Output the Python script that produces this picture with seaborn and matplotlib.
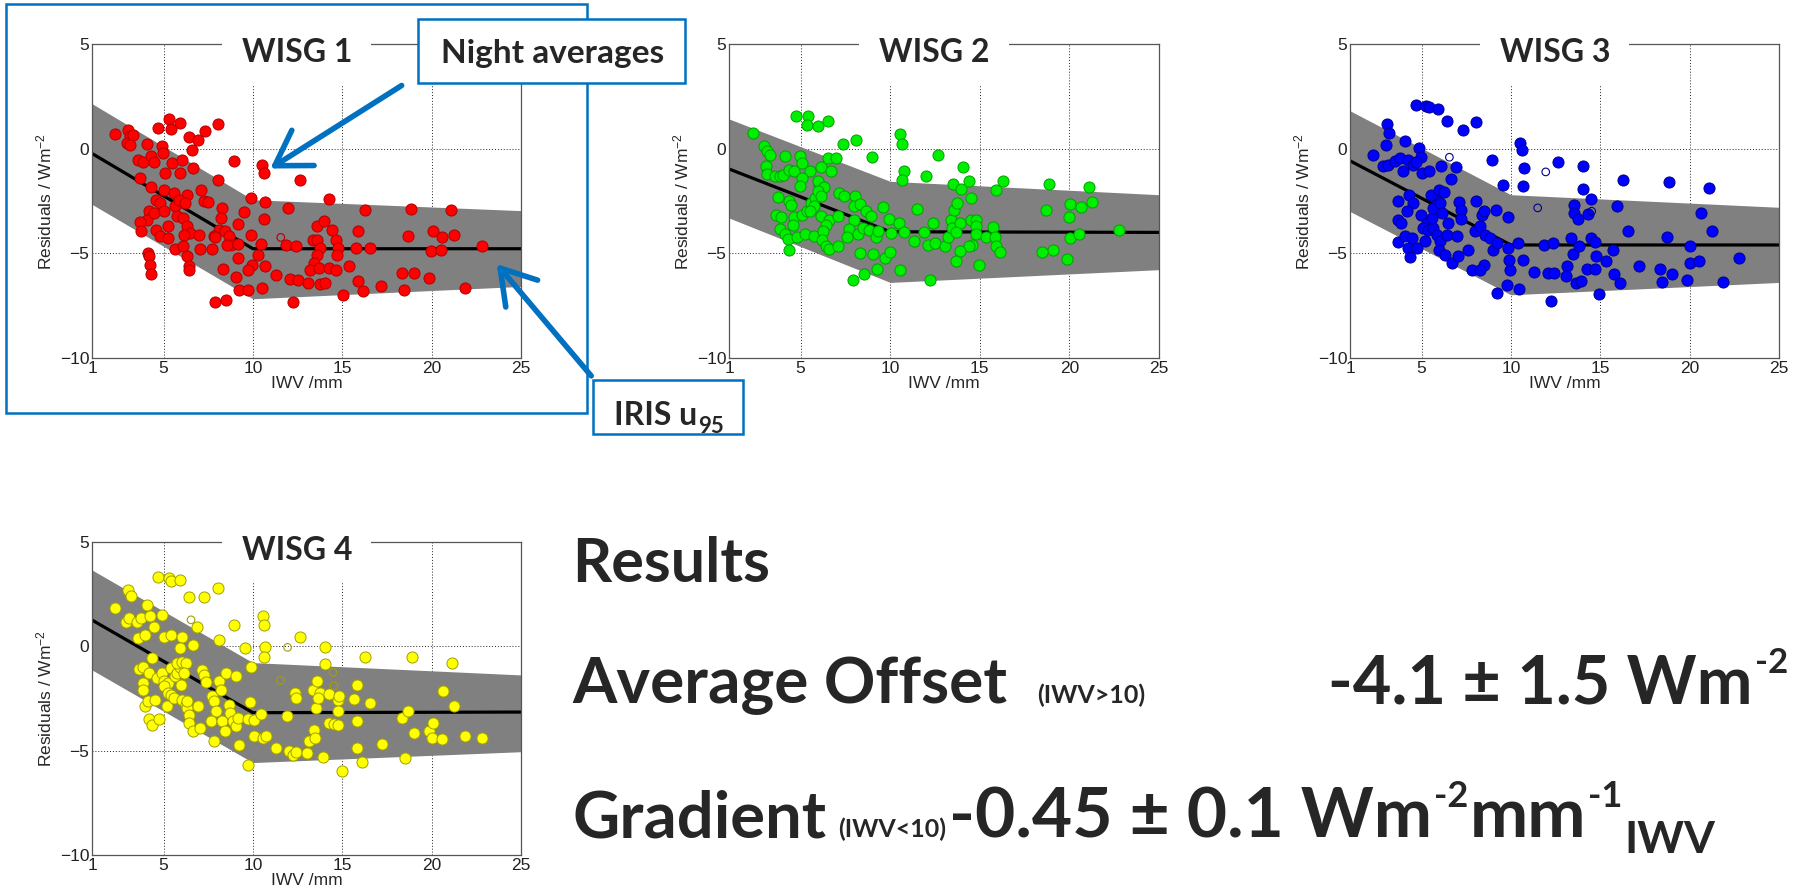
import numpy as np
import pandas as pd
import matplotlib
matplotlib.use("Agg")
import matplotlib.pyplot as plt
import seaborn as sns
from matplotlib.patches import Rectangle, FancyArrowPatch

FIG_W, FIG_H = 1801, 896
BLUE = "#0070C0"

# night-average residuals per instrument: (IWV mm, residual W m^-2)
wisg1_points = [
    (2.3, 0.7), (3.0, 0.9), (3.1, 0.6), (2.95, 0.27), (3.27, 0.64), (3.1, 0.16), (3.57, -0.53), (3.85, -0.64),
    (3.68, -1.4), (4.1, 0.24), (4.28, -0.37), (4.49, -0.64), (4.7, 0.99), (5.31, 1.42), (5.43, 0.96), (5.93, 1.23),
    (4.9, 0.11), (4.99, -0.21), (4.32, -1.85), (5.03, -1.96), (5.5, -0.68), (6.06, -0.53), (5.07, -1.16), (5.95, -1.16),
    (6.44, 0.54), (6.91, 0.43), (7.3, 0.83), (6.57, -0.08), (6.63, -0.92), (8.05, 1.18), (8.05, -1.48), (8.93, -0.59),
    (10.53, -0.8), (10.64, -1.16), (12.63, -1.48), (7.11, -1.99), (6.32, -2.2), (7.28, -2.52), (7.5, -2.56), (5.56, -2.12),
    (4.6, -2.44), (4.17, -2.99), (4.06, -3.39), (3.66, -3.52), (3.74, -3.95), (4.49, -3.07), (4.81, -2.6), (5.03, -2.99),
    (5.67, -2.75), (5.89, -2.44), (6.2, -2.6), (5.78, -3.24), (6.1, -3.31), (4.6, -3.87), (5.24, -3.71), (4.81, -4.19),
    (5.24, -4.27), (6.32, -3.71), (6.49, -4.03), (6.14, -4.11), (6.96, -4.11), (5.67, -4.79), (6.1, -4.67), (6.32, -5.14),
    (6.42, -5.62), (6.4, -5.78), (7.06, -4.79), (7.7, -4.79), (4.13, -4.99), (4.17, -5.14), (4.22, -5.54), (4.32, -5.99),
    (8.3, -2.83), (8.24, -3.31), (8.13, -3.87), (7.8, -4.19), (7.9, -4.22), (8.46, -3.95), (8.67, -4.19), (8.78, -4.59),
    (8.56, -4.59), (9.14, -3.58), (9.14, -4.55), (9.53, -3.03), (9.89, -2.36), (9.89, -4.11), (10.7, -2.55), (10.6, -3.34),
    (10.45, -4.55), (10.28, -5.06), (9.96, -5.54), (9.75, -5.78), (10.7, -5.62), (9.16, -5.22), (8.35, -5.75), (9.04, -6.13),
    (9.2, -6.74), (9.75, -6.74), (10.5, -6.66), (7.88, -7.32), (8.52, -7.21), (11.3, -6.04), (11.99, -2.83), (11.84, -4.59),
    (12.42, -4.67), (12.1, -6.23), (12.5, -6.27), (13.06, -6.42), (12.25, -7.34), (14.24, -2.4), (13.56, -3.71), (14.0, -3.44),
    (14.45, -3.87), (13.34, -4.35), (13.6, -4.35), (13.77, -4.75), (14.63, -4.35), (14.78, -4.75), (14.72, -5.06), (13.6, -5.06),
    (13.43, -5.46), (13.17, -5.78), (13.71, -5.7), (14.24, -5.7), (14.67, -5.78), (15.36, -5.62), (13.77, -6.46), (14.03, -6.42),
    (15.05, -6.98), (15.9, -6.34), (16.14, -6.82), (16.3, -2.91), (15.9, -3.95), (15.76, -4.75), (16.55, -4.75), (17.18, -6.58),
    (18.85, -2.88), (18.7, -4.19), (18.36, -5.94), (19.0, -5.94), (18.46, -6.74), (20.07, -3.95), (20.6, -4.24), (21.25, -4.14),
    (21.1, -2.95), (19.98, -4.9), (20.5, -4.82), (19.85, -6.18), (21.85, -6.66), (22.81, -4.63),
]
wisg1_open = [(11.56, -4.24)]

wisg2_points = [
    (2.35, 0.75), (2.96, 0.11), (3.11, -0.13), (3.29, -0.29), (3.06, -0.81), (3.11, -1.19), (3.58, -1.32), (3.83, -1.29),
    (4.02, -1.27), (4.15, -0.33), (4.34, -1.0), (4.63, -1.08), (4.94, -0.37), (5.07, -0.68), (5.52, -1.08), (4.75, 1.58),
    (5.42, 1.58), (5.36, 1.15), (5.94, 1.07), (6.52, 1.31), (7.38, 0.24), (8.07, 0.43), (6.11, -0.88), (6.55, -0.45),
    (6.96, -0.45), (6.67, -1.05), (8.96, -0.4), (5.07, -1.4), (4.98, -1.8), (3.73, -2.32), (4.34, -2.48), (4.44, -2.71),
    (3.63, -3.15), (3.88, -3.28), (4.63, -3.26), (5.07, -3.15), (5.36, -2.99), (5.55, -2.6), (5.8, -2.36), (6.03, -1.72),
    (5.94, -1.56), (6.32, -1.83), (5.98, -2.04), (6.13, -2.28), (5.75, -2.75), (5.52, -2.99), (6.13, -3.23), (6.57, -3.39),
    (6.42, -3.63), (7.09, -3.23), (7.13, -2.12), (7.42, -2.28), (8.05, -2.28), (8.0, -2.75), (8.3, -2.63), (8.63, -2.99),
    (8.9, -3.23), (9.59, -2.79), (7.96, -3.42), (3.82, -3.84), (4.13, -4.06), (4.27, -4.32), (4.56, -3.63), (4.34, -4.82),
    (4.79, -4.22), (5.23, -4.06), (5.75, -4.16), (6.23, -3.95), (6.19, -4.35), (6.42, -4.63), (6.57, -4.79), (7.09, -4.63),
    (7.67, -3.84), (7.57, -4.22), (8.19, -4.06), (8.5, -3.79), (8.82, -3.87), (9.21, -4.22), (9.3, -3.95), (9.92, -3.34),
    (10.04, -4.03), (10.49, -3.55), (10.74, -4.0), (8.3, -4.98), (9.05, -5.02), (9.69, -5.22), (10.0, -4.95), (9.26, -5.75),
    (8.53, -5.99), (7.92, -6.26), (10.55, -5.78), (10.55, 0.72), (10.65, 0.24), (10.74, -1.08), (10.65, -1.51), (11.51, -2.88),
    (11.99, -1.32), (12.66, -0.32), (11.32, -4.43), (11.91, -4.0), (12.09, -4.59), (12.47, -4.51), (12.38, -3.55), (12.24, -6.26),
    (13.05, -4.67), (13.2, -4.22), (13.38, -3.39), (13.57, -2.91), (13.72, -2.6), (13.53, -1.69), (13.95, -1.93), (14.39, -1.56),
    (14.05, -0.88), (14.53, -2.36), (13.43, -3.79), (13.87, -3.55), (13.68, -4.0), (14.49, -3.39), (14.78, -3.42), (14.78, -3.71),
    (14.78, -4.06), (14.59, -4.59), (14.39, -4.67), (13.87, -4.9), (13.66, -5.38), (14.97, -5.54), (15.35, -4.22), (15.74, -3.74),
    (15.84, -4.22), (15.93, -4.63), (16.12, -4.95), (15.93, -1.99), (16.32, -1.56), (18.49, -4.95), (19.06, -4.86), (18.72, -2.95),
    (18.87, -1.67), (19.87, -5.27), (19.97, -3.26), (20.06, -2.63), (20.02, -4.27), (20.64, -2.79), (20.54, -4.06), (21.08, -1.85),
    (21.27, -2.56), (22.75, -3.9),
]
wisg2_open = []

wisg3_points = [
    (2.27, -0.29), (3.05, 1.18), (3.2, 0.75), (3.01, 0.19), (2.86, -0.84), (3.14, -0.76), (3.52, -0.61), (3.8, -0.45),
    (4.08, 0.35), (3.98, -1.08), (4.26, -0.53), (4.51, -0.76), (4.67, 2.1), (5.23, 2.02), (5.44, 1.99), (5.94, 1.89),
    (6.44, 1.34), (7.3, 0.91), (8.03, 1.26), (4.88, 0.03), (4.97, -0.4), (4.69, -0.65), (5.01, -1.16), (5.44, -1.08),
    (6.07, -0.84), (6.91, -0.88), (6.63, -1.45), (8.93, -0.56), (9.55, -1.75), (10.51, 0.27), (10.6, -0.05), (10.73, -0.92),
    (10.66, -1.8), (12.62, -0.64), (14.02, -0.81), (14.02, -1.91), (14.49, -2.39), (16.25, -1.48), (18.86, -1.61), (21.1, -1.88),
    (3.67, -2.52), (4.32, -2.23), (4.54, -2.6), (4.17, -3.0), (3.67, -3.39), (3.85, -3.55), (3.7, -4.46), (4.08, -4.16),
    (4.45, -4.27), (4.26, -4.75), (4.35, -5.19), (4.73, -4.75), (5.19, -4.43), (4.95, -3.15), (5.29, -3.55), (5.1, -3.79),
    (5.38, -3.87), (5.66, -3.79), (5.57, -3.31), (5.66, -2.83), (5.85, -2.44), (5.51, -2.2), (6.0, -1.96), (6.28, -2.07),
    (6.03, -2.6), (6.16, -3.07), (5.85, -4.11), (6.03, -4.43), (6.41, -4.11), (6.5, -3.55), (6.0, -4.82), (6.31, -5.06),
    (6.69, -5.46), (7.06, -5.14), (6.97, -4.19), (7.12, -2.56), (7.21, -2.91), (7.21, -3.34), (7.62, -4.82), (7.81, -5.78),
    (8.05, -2.52), (8.0, -3.95), (8.27, -3.71), (8.37, -3.15), (8.5, -2.99), (8.55, -4.11), (8.5, -5.54), (8.27, -5.81),
    (8.83, -4.27), (9.02, -4.82), (9.17, -2.91), (9.24, -4.51), (9.2, -6.9), (9.86, -3.26), (9.76, -6.5), (9.95, -5.81),
    (9.86, -4.75), (9.91, -5.3), (10.42, -4.51), (10.47, -6.7), (10.7, -5.3), (11.31, -5.89), (11.85, -4.59), (12.06, -5.94),
    (12.37, -4.51), (12.43, -5.94), (12.24, -7.29), (13.12, -5.62), (13.06, -6.1), (13.36, -4.27), (13.49, -5.02), (13.55, -2.67),
    (13.55, -3.07), (13.74, -3.36), (13.83, -4.67), (13.62, -6.42), (13.91, -6.34), (14.24, -5.75), (14.33, -3.12), (14.48, -4.27),
    (14.7, -4.47), (14.7, -5.75), (14.76, -5.14), (14.95, -6.93), (15.32, -5.35), (15.73, -4.82), (15.79, -5.99), (15.92, -2.72),
    (16.1, -6.42), (16.57, -3.95), (17.18, -5.59), (18.34, -5.75), (18.43, -6.37), (18.71, -4.22), (19.03, -5.97), (19.87, -6.29),
    (20.02, -4.63), (20.02, -5.46), (20.54, -5.38), (20.63, -3.07), (21.27, -3.95), (21.85, -6.39), (22.78, -5.22),
]
wisg3_open = [(6.56, -0.41), (11.95, -1.11), (11.5, -2.83), (14.52, -2.99)]

wisg4_points = [
    (2.28, 1.83), (3.04, 2.71), (3.2, 2.39), (2.88, 1.15), (3.08, 1.35), (3.54, 1.19), (3.74, 1.35), (4.08, 1.99),
    (4.24, 1.43), (4.48, 0.95), (3.6, 0.39), (3.94, 0.52), (4.7, 3.3), (5.3, 3.27), (5.44, 3.11), (5.94, 3.19),
    (6.44, 2.36), (7.28, 2.36), (8.04, 2.79), (4.94, 1.51), (5.04, 0.47), (5.44, 0.55), (6.04, 0.44), (5.94, -0.09),
    (6.64, 0.04), (6.88, 0.95), (8.08, 0.31), (8.94, 1.03), (9.54, -0.09), (10.54, 1.43), (10.64, 1.03), (10.68, -0.05),
    (10.64, -0.53), (9.9, -0.97), (12.64, 0.43), (14.04, -0.04), (14.04, -0.85), (16.28, -0.53), (18.9, -0.53), (21.14, -0.81),
    (3.64, -1.08), (3.84, -0.97), (4.34, -0.57), (4.2, -1.28), (3.84, -1.76), (3.84, -2.08), (3.94, -2.88), (4.14, -2.64),
    (4.54, -2.56), (4.2, -3.49), (4.34, -3.76), (4.74, -3.49), (4.64, -1.52), (4.94, -1.28), (5.04, -1.68), (5.24, -1.76),
    (5.04, -1.92), (5.24, -2.24), (5.2, -2.85), (5.44, -2.32), (5.6, -2.48), (5.44, -1.04), (5.64, -1.44), (5.74, -1.28),
    (5.94, -0.97), (5.74, -0.81), (6.04, -0.73), (6.24, -0.81), (6.0, -1.84), (6.14, -1.28), (6.04, -2.56), (6.24, -2.8),
    (6.34, -2.96), (6.44, -3.28), (6.44, -3.68), (6.64, -4.08), (6.34, -2.64), (6.94, -2.88), (7.04, -3.92), (7.14, -1.12),
    (7.24, -1.36), (7.4, -1.73), (7.74, -2.4), (7.84, -2.64), (7.94, -3.12), (7.64, -3.6), (7.84, -4.56), (8.08, -1.68),
    (8.24, -2.08), (8.3, -3.6), (8.48, -1.28), (8.44, -4.08), (8.64, -2.8), (8.74, -3.2), (8.88, -3.6), (9.04, -3.84),
    (9.14, -3.44), (9.08, -1.44), (9.2, -4.72), (9.7, -5.68), (9.84, -2.69), (9.74, -3.49), (10.04, -3.52), (10.04, -4.29),
    (10.44, -3.25), (10.54, -4.4), (10.74, -4.29), (11.3, -4.85), (11.9, -3.33), (12.04, -5.0), (12.24, -5.2), (12.34, -2.24),
    (12.4, -2.48), (12.44, -5.04), (13.04, -5.12), (13.14, -4.53), (13.44, -3.99), (13.5, -4.4), (13.54, -2.96), (13.34, -2.08),
    (13.6, -1.65), (13.74, -2.24), (13.64, -2.48), (13.9, -5.28), (14.24, -2.29), (14.24, -3.68), (14.54, -3.72), (14.74, -2.56),
    (14.74, -3.12), (14.74, -3.76), (14.84, -2.4), (15.0, -5.96), (15.68, -2.53), (15.84, -1.84), (15.8, -3.6), (15.84, -4.88),
    (16.1, -5.52), (16.58, -2.72), (17.2, -4.69), (18.34, -3.44), (18.7, -3.08), (18.5, -5.33), (19.04, -4.16), (19.84, -4.05),
    (20.1, -3.68), (20.04, -4.4), (20.64, -2.12), (20.58, -4.44), (21.24, -2.85), (21.84, -4.32), (22.8, -4.4),
]
wisg4_open = [(6.54, 1.27), (11.94, -0.05), (11.54, -1.64), (14.48, -1.25), (14.54, -1.89)]

# piecewise fit and IRIS u95 band, given at IWV knots
fit_knots = [1, 10, 25]
wisg1_fit, wisg1_upper, wisg1_lower = [-0.23, -4.78, -4.78], [2.15, -2.44, -2.96], [-2.66, -7.17, -6.58]
wisg2_fit, wisg2_upper, wisg2_lower = [-0.97, -3.97, -4.0], [1.42, -1.56, -2.2], [-3.31, -6.39, -5.78]
wisg3_fit, wisg3_upper, wisg3_lower = [-0.58, -4.6, -4.6], [1.81, -2.2, -2.8], [-3.0, -6.98, -6.39]
wisg4_fit, wisg4_upper, wisg4_lower = [1.26, -3.18, -3.15], [3.66, -0.78, -1.37], [-1.13, -5.57, -5.05]

x_ticks = [1, 5, 10, 15, 20, 25]
y_ticks = [-10, -5, 0, 5]

sns.set_style("white")
plt.rcParams["font.family"] = ["Liberation Sans", "DejaVu Sans"]
plt.rcParams["mathtext.fontset"] = "custom"
plt.rcParams["mathtext.rm"] = "Liberation Sans"
plt.rcParams["mathtext.it"] = "Liberation Sans:italic"

fig = plt.figure(figsize=(FIG_W / 100, FIG_H / 100), dpi=100)
fig.patch.set_facecolor("white")


def px_axes(x0, y0, x1, y1):
    return fig.add_axes([x0 / FIG_W, 1 - y1 / FIG_H, (x1 - x0) / FIG_W, (y1 - y0) / FIG_H])


def draw_panel(ax, title, points, opened, fit, upper, lower, face, edge):
    df = pd.DataFrame(points, columns=["iwv", "res"])
    ax.fill_between(fit_knots, lower, upper, color="#808080", lw=0, zorder=1)
    sns.lineplot(x=fit_knots, y=fit, ax=ax, color="black", lw=2.3, zorder=2, estimator=None, sort=False)
    sns.scatterplot(data=df, x="iwv", y="res", ax=ax, color=face, edgecolor=edge, linewidth=0.7, s=64, zorder=3)
    if opened:
        op = pd.DataFrame(opened, columns=["iwv", "res"])
        ax.scatter(op["iwv"], op["res"], s=30, facecolors="none", edgecolors=edge, linewidths=0.8, zorder=3)
    ax.set_xlim(1, 25)
    ax.set_ylim(-10, 5)
    ax.set_xticks(x_ticks)
    ax.set_yticks(y_ticks)
    ax.set_axisbelow(True)
    ax.grid(True, ls=(0, (1, 2)), color="#222222", lw=0.7)
    ax.tick_params(direction="in", length=4, labelsize=12.5, pad=2, colors="#222222")
    for sp in ax.spines.values():
        sp.set_color("#555555")
        sp.set_linewidth(0.9)
    ax.set_xlabel("IWV /mm", fontsize=12.5, labelpad=0)
    ax.set_ylabel("Residuals / Wm$^{-2}$", fontsize=12.5, labelpad=4)
    # white text box covering the top of the axes
    ax.add_patch(Rectangle((0.303, 0.87), 0.347, 0.16, transform=ax.transAxes,
                           facecolor="white", edgecolor="none", clip_on=False, zorder=5))
    ax.text(0.478, 0.942, title, transform=ax.transAxes, ha="center", va="baseline",
            fontsize=23, fontweight="bold", family="Lato", zorder=6)


ax1 = px_axes(92, 44, 521, 358)
ax2 = px_axes(729, 44, 1159, 358)
ax3 = px_axes(1350, 44, 1779, 358)
ax4 = px_axes(92, 542, 521, 855)

draw_panel(ax1, "WISG 1", wisg1_points, wisg1_open, wisg1_fit, wisg1_upper, wisg1_lower, "#ff0000", "#b00000")
draw_panel(ax2, "WISG 2", wisg2_points, wisg2_open, wisg2_fit, wisg2_upper, wisg2_lower, "#00ee00", "#00a000")
draw_panel(ax3, "WISG 3", wisg3_points, wisg3_open, wisg3_fit, wisg3_upper, wisg3_lower, "#0000ff", "#000090")
draw_panel(ax4, "WISG 4", wisg4_points, wisg4_open, wisg4_fit, wisg4_upper, wisg4_lower, "#ffff00", "#a0a000")


def fig_box(x0, y0, x1, y1, fill, z):
    fig.add_artist(Rectangle((x0 / FIG_W, 1 - y1 / FIG_H), (x1 - x0) / FIG_W, (y1 - y0) / FIG_H,
                             transform=fig.transFigure, facecolor="white" if fill else "none",
                             edgecolor=BLUE, lw=1.8, zorder=z))


def fig_arrow(x0, y0, x1, y1):
    fig.add_artist(FancyArrowPatch((x0 / FIG_W, 1 - y0 / FIG_H), (x1 / FIG_W, 1 - y1 / FIG_H),
                                   transform=fig.transFigure, arrowstyle="->,head_length=0.8,head_width=0.5",
                                   mutation_scale=30, lw=4, color=BLUE, zorder=12))


renderer = fig.canvas.get_renderer()


def runs(x, base, pieces):
    # pieces: (text, size, raise_px, gap_after_px)
    for s, size, dy, gap in pieces:
        t = fig.text(x / FIG_W, 1 - (base - dy) / FIG_H, s, fontsize=size, fontweight="bold",
                     family="Lato", ha="left", va="baseline", zorder=15)
        x += t.get_window_extent(renderer=renderer).width + gap
    return x


# annotation boxes
fig_box(6, 4, 587, 413, False, 8)
fig_box(418, 19, 685, 83, True, 10)
fig_box(593, 380, 743, 434, True, 10)
fig.text(553 / FIG_W, 1 - 63 / FIG_H, "Night averages", fontsize=24, fontweight="bold",
         family="Lato", ha="center", va="baseline", zorder=15)
runs(614, 425, [("IRIS u", 23, 0, 1), ("95", 16, -8, 0)])
fig_arrow(404, 84, 268, 170)
fig_arrow(593, 378, 495, 262)

# results text
runs(572, 582, [("Results", 44, 0, 0)])
runs(572, 703, [("Average Offset", 46, 0, 0)])
runs(1037, 703, [("(IWV>10)", 18, 0, 0)])
runs(1328, 703, [("-4.1 \u00b1 1.5 Wm", 48, 0, 2), ("-2", 25, 30, 0)])
runs(572, 837, [("Gradient", 47, 0, 12), ("(IWV<10)", 18, 0, 3),
                ("-0.45 \u00b1 0.1 Wm", 50, 0, 2), ("-2", 26, 30, 1), ("mm", 50, 0, 2),
                ("-1", 26, 30, 2), ("IWV", 32, -16, 0)])

fig.savefig("out.png", dpi=100, facecolor="white")
